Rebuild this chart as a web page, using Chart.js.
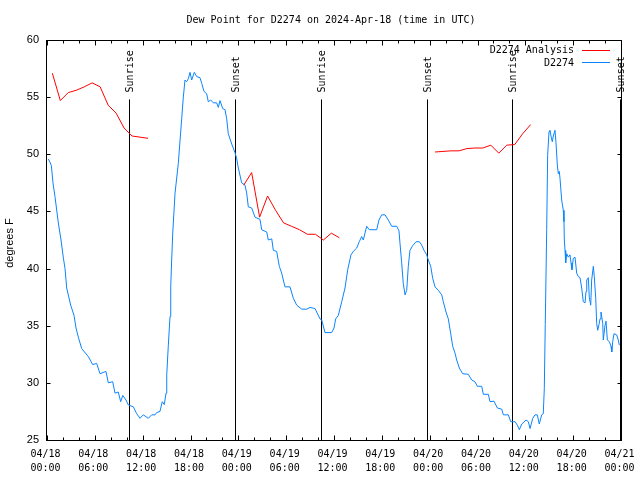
<!DOCTYPE html>
<html>
<head>
<meta charset="utf-8">
<title>Dew Point D2274</title>
<script src="https://cdn.jsdelivr.net/npm/chart.js@4.4.1/dist/chart.umd.min.js"></script>
<style>
  body { margin: 0; background: #fff; }
</style>
</head>
<body>
<canvas id="dewChart" width="640" height="480"></canvas>
<script>
// hours since 04/18 00:00 UTC
const blueHours = [
  0.16,0.38,0.55,0.75,1.00,1.42,1.76,2.04,2.26,2.47,
  2.97,3.39,3.64,3.93,4.35,5.18,5.73,6.23,6.65,7.40,
  7.69,8.24,8.53,8.94,9.24,9.50,9.91,10.20,10.83,11.25,
  11.67,12.08,12.71,13.13,13.55,13.76,14.17,14.46,14.71,14.93,
  15.02,15.22,15.43,15.52,15.64,15.77,16.06,16.47,16.90,17.10,
  17.31,17.52,17.72,17.94,18.15,18.48,18.78,19.19,19.41,19.69,
  20.03,20.23,20.53,20.86,21.29,21.49,21.70,22.04,22.33,22.54,
  22.74,23.17,23.58,23.80,24.00,24.42,24.84,25.05,25.25,25.68,
  26.09,26.72,26.93,27.56,27.76,28.19,28.39,28.81,29.14,29.44,
  29.85,30.48,30.90,31.32,31.95,32.58,32.99,33.62,33.83,34.24,
  34.46,34.87,35.71,36.00,36.21,36.54,36.97,37.38,37.72,38.13,
  38.42,38.85,39.17,39.47,39.68,40.10,40.43,41.36,41.64,41.98,
  42.40,42.81,43.24,43.87,44.15,44.28,44.49,44.69,44.91,45.12,
  45.32,45.53,45.87,46.29,46.70,47.00,47.29,47.63,47.83,48.13,
  48.38,48.67,49.08,49.51,49.71,50.05,50.34,50.64,50.89,51.18,
  51.39,51.72,52.14,52.85,53.27,53.68,53.98,54.53,54.73,55.36,
  55.57,56.07,56.49,57.04,57.24,57.87,58.17,58.71,59.00,59.25,
  59.55,60.09,60.38,60.59,60.93,61.21,61.50,61.75,62.05,62.25,
  62.38,62.50,62.68,62.80,62.97,63.09,63.22,63.38,63.51,63.72,
  63.85,64.01,64.14,64.26,64.35,64.56,64.76,64.85,64.89,64.98,
  65.06,65.19,65.39,65.60,65.73,65.85,66.02,66.23,66.44,66.64,
  66.86,67.07,67.27,67.49,67.61,67.70,67.90,68.02,68.20,68.32,
  68.53,68.65,68.83,68.95,69.08,69.24,69.37,69.49,69.71,69.78,
  69.99,70.12,70.29,70.54,70.75,70.84,70.96,71.12,71.46,71.66,71.79
]
const blueValues = [
  49.6,49.3,49.0,47.5,46.3,44.0,42.5,41.0,40.0,38.3,
  36.8,35.9,34.8,34.0,33.0,32.3,31.6,31.7,30.8,31.0,
  30.0,30.1,29.1,29.2,28.35,28.9,28.5,28.07,27.9,27.3,
  26.9,27.2,26.9,27.2,27.2,27.4,27.5,28.35,28.1,29.1,
  30.7,33.3,35.8,38.4,40.75,43.1,46.6,49.2,53.15,55.0,
  56.5,56.35,56.6,57.17,56.5,57.17,56.8,56.7,56.2,55.5,
  55.3,54.6,54.75,54.5,54.5,54.1,54.7,54.0,53.9,53.1,
  51.8,50.9,50.15,49.6,48.8,47.5,47.3,46.6,45.4,45.3,
  44.5,44.3,43.4,43.2,42.5,42.6,41.6,41.5,40.2,39.6,
  38.4,38.4,37.4,36.8,36.45,36.45,36.6,36.5,36.2,35.6,
  35.5,34.4,34.4,34.8,35.6,35.9,37.1,38.3,39.9,41.2,
  41.5,41.8,42.35,42.8,42.5,43.7,43.4,43.4,44.25,44.7,
  44.7,44.25,43.7,43.7,43.3,42.2,40.5,38.7,37.7,38.1,
  40.2,41.6,42.0,42.35,42.35,42.06,41.6,41.2,40.75,40.2,
  39.15,38.4,38.1,37.7,37.1,36.2,35.6,34.3,33.2,32.6,
  32.0,31.3,30.8,30.75,30.25,30.1,29.7,29.7,29.0,29.0,
  28.35,28.4,27.8,27.7,27.2,27.2,26.6,26.6,26.3,25.9,
  26.4,26.75,26.6,26.0,26.9,27.2,27.2,26.4,27.2,27.3,
  29.5,35.1,43.4,49.9,51.98,52.1,51.6,51.1,51.6,52.1,
  51.0,49.06,48.3,48.5,47.9,46.0,45.1,44.1,42.5,41.6,
  40.5,41.3,41.0,41.2,40.5,39.9,40.9,41.0,39.6,39.3,
  39.2,38.3,37.1,37.0,38.0,39.0,39.2,37.5,36.8,39.0,
  40.2,39.3,37.4,35.2,34.6,35.1,35.6,36.2,35.2,33.75,
  35.0,35.4,33.75,33.6,33.2,32.7,33.6,34.3,34.2,33.75,33.3
]

// analysis, hourly, null = no data
const redHours = [
  0.67,1.67,2.67,3.67,4.67,5.67,6.67,7.67,8.67,9.67,10.67,11.67,12.67,
  18,
  24.67,25.67,26.67,27.67,28.67,29.67,30.67,31.67,32.67,33.67,34.67,35.67,36.67,
  42,
  48.67,49.67,50.67,51.67,52.67,53.67,54.67,55.67,56.67,57.67,58.67,59.67,60.67
]
const redValues = [
  57.1,54.7,55.4,55.6,55.9,56.25,55.9,54.3,53.6,52.3,51.6,51.5,51.4,
  null,
  47.3,48.4,44.5,46.35,45.1,44.0,43.7,43.4,43.0,43.0,42.5,43.1,42.7,
  null,
  50.2,50.25,50.3,50.3,50.5,50.55,50.55,50.8,50.1,50.8,50.85,51.8,52.6
]

const sunHours = [10.32, 23.62, 34.41, 47.71, 58.37, 71.88]
const sunLabels = ['Sunrise', 'Sunset', 'Sunrise', 'Sunset', 'Sunrise', 'Sunset']

const xTickHours = [0, 6, 12, 18, 24, 30, 36, 42, 48, 54, 60, 66, 72]
const xTickLabels = [
  ['04/18', '00:00'], ['04/18', '06:00'], ['04/18', '12:00'], ['04/18', '18:00'],
  ['04/19', '00:00'], ['04/19', '06:00'], ['04/19', '12:00'], ['04/19', '18:00'],
  ['04/20', '00:00'], ['04/20', '06:00'], ['04/20', '12:00'], ['04/20', '18:00'],
  ['04/21', '00:00']
]
const yTicks = [25, 30, 35, 40, 45, 50, 55, 60]

const mono = '10px "DejaVu Sans Mono", monospace'
const sans = '11px "Liberation Sans", Arial, sans-serif'

function puntos(horas, valores) {
  return horas.map((h, i) => ({ x: h, y: valores[i] }))
}

const marco = {
  id: 'marco',
  beforeDatasetsDraw(chart) {
    const ctx = chart.ctx
    const x = chart.scales.x
    const y = chart.scales.y
    const top = y.getPixelForValue(54.8)
    const bottom = chart.chartArea.bottom
    ctx.save()
    ctx.strokeStyle = '#000'
    ctx.lineWidth = 1
    ctx.fillStyle = '#000'
    ctx.font = mono
    for (let i = 0; i < sunHours.length; i++) {
      const px = Math.round(x.getPixelForValue(sunHours[i])) + 0.5
      ctx.beginPath()
      ctx.moveTo(px, top)
      ctx.lineTo(px, bottom)
      ctx.stroke()
      ctx.save()
      ctx.translate(px + 1, top - 7)
      ctx.rotate(-Math.PI / 2)
      ctx.textAlign = 'left'
      ctx.textBaseline = 'middle'
      ctx.fillText(sunLabels[i], 0, 0)
      ctx.restore()
    }
    ctx.restore()
  },
  afterDraw(chart) {
    const ctx = chart.ctx
    const area = chart.chartArea
    const x = chart.scales.x
    const y = chart.scales.y
    const left = area.left - 0.5
    const right = area.right + 0.5
    const top = area.top + 0.5
    const bottom = area.bottom + 0.5
    ctx.save()
    ctx.strokeStyle = '#000'
    ctx.lineWidth = 1
    ctx.strokeRect(left, top, right - left, bottom - top)

    // x ticks, every 2 h, longer every 6 h
    ctx.beginPath()
    for (let h = 0; h <= 72; h += 2) {
      const px = Math.round(x.getPixelForValue(h)) + 0.5
      const len = h % 6 === 0 ? 5 : 3
      ctx.moveTo(px, bottom)
      ctx.lineTo(px, bottom - len)
      ctx.moveTo(px, top)
      ctx.lineTo(px, top + len)
    }
    for (let v of yTicks) {
      const py = Math.round(y.getPixelForValue(v)) + 0.5
      ctx.moveTo(left, py)
      ctx.lineTo(left + 4, py)
      ctx.moveTo(right, py)
      ctx.lineTo(right - 4, py)
    }
    ctx.stroke()

    ctx.fillStyle = '#000'
    ctx.font = mono
    ctx.textAlign = 'center'
    ctx.textBaseline = 'middle'
    xTickHours.forEach((h, i) => {
      const px = x.getPixelForValue(h) - 1.5
      ctx.fillText(xTickLabels[i][0], px, 454)
      ctx.fillText(xTickLabels[i][1], px, 468)
    })

    ctx.font = sans
    ctx.textAlign = 'right'
    for (let v of yTicks) {
      ctx.fillText(String(v), 39, y.getPixelForValue(v))
    }

    ctx.save()
    ctx.translate(10, 243)
    ctx.rotate(-Math.PI / 2)
    ctx.textAlign = 'center'
    ctx.fillText('degrees F', 0, 0)
    ctx.restore()

    ctx.font = mono
    ctx.textAlign = 'center'
    ctx.fillText('Dew Point for D2274 on 2024-Apr-18 (time in UTC)', 331, 20)

    // leyenda
    const series = chart.data.datasets
    series.forEach((ds, i) => {
      const ly = 50.5 + i * 12.8
      ctx.textAlign = 'right'
      ctx.fillStyle = '#000'
      ctx.fillText(ds.label, 574, ly)
      ctx.strokeStyle = ds.borderColor
      ctx.beginPath()
      ctx.moveTo(582, Math.round(ly) - 0.5)
      ctx.lineTo(610, Math.round(ly) - 0.5)
      ctx.stroke()
    })
    ctx.restore()
  }
}

new Chart(dewChart, {
  type: 'line',
  data: {
    datasets: [
      {
        label: 'D2274 Analysis',
        data: puntos(redHours, redValues),
        borderColor: '#ff0000',
        borderWidth: 1,
        pointRadius: 0,
        spanGaps: false
      },
      {
        label: 'D2274',
        data: puntos(blueHours, blueValues),
        borderColor: '#0a84ff',
        borderWidth: 1,
        pointRadius: 0
      }
    ]
  },
  options: {
    responsive: false,
    animation: false,
    devicePixelRatio: 1,
    layout: { padding: { left: 47, right: 19, top: 40, bottom: 40 } },
    plugins: {
      legend: { display: false },
      title: { display: false },
      tooltip: { enabled: false }
    },
    scales: {
      x: { type: 'linear', min: 0, max: 72, display: false },
      y: { type: 'linear', min: 25, max: 60, display: false }
    }
  },
  plugins: [marco]
})
</script>
</body>
</html>
